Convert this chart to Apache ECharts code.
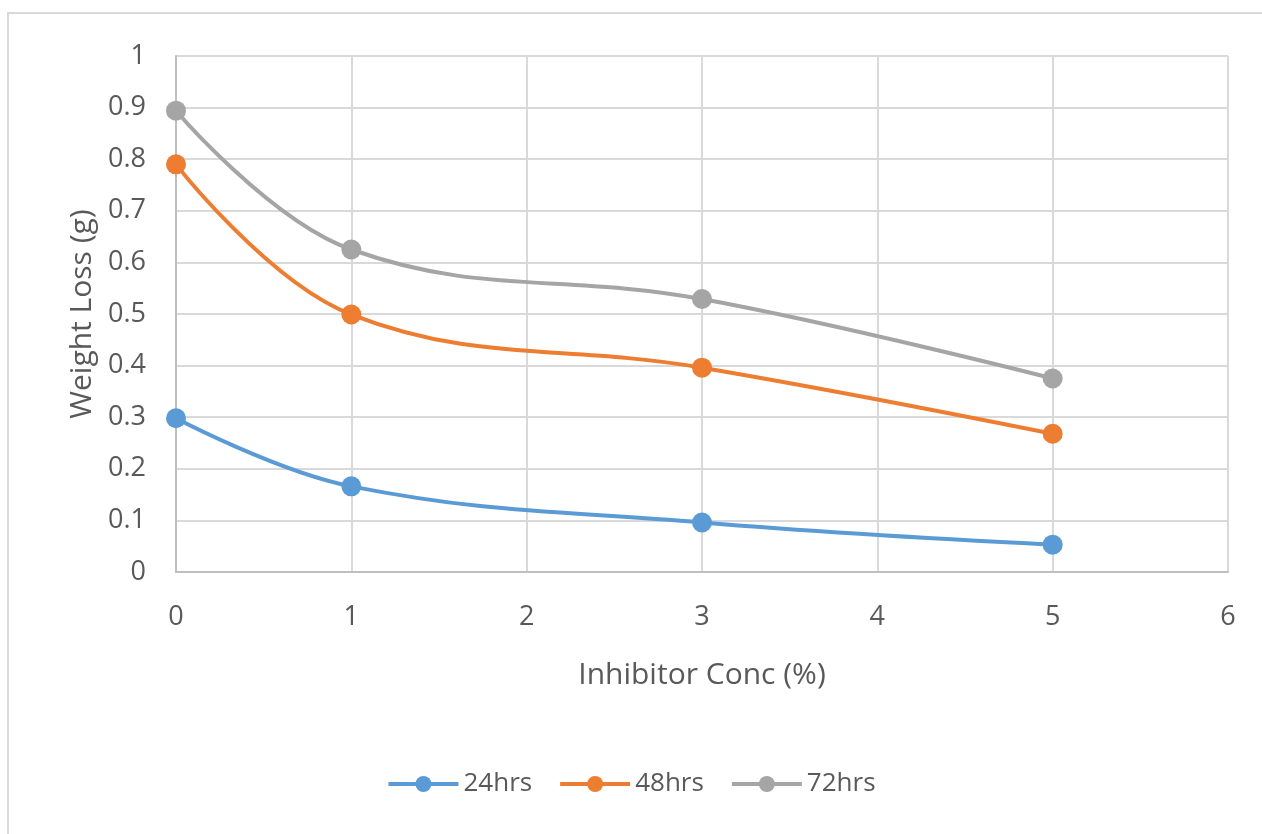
<!DOCTYPE html>
<html><head><meta charset="utf-8">
<script src="https://cdn.jsdelivr.net/npm/echarts@6/dist/echarts.min.js"></script>
<style>html,body{margin:0;padding:0;background:#fff}#c{width:1262px;height:834px}</style>
</head><body><div id="c"></div>
<script>
const xValues = [0, 1, 3, 5];
const seriesNames = ['24hrs', '48hrs', '72hrs'];
const hrs24 = [0.298, 0.166, 0.096, 0.053];
const hrs48 = [0.790, 0.499, 0.396, 0.268];
const hrs72 = [0.894, 0.625, 0.529, 0.375];
const colors = ['#5b9bd5', '#ed7d31', '#a5a5a5'];
const allData = [hrs24, hrs48, hrs72];

const chart = echarts.init(document.getElementById('c'));
const font = '"Open Sans", "Noto Sans", sans-serif';
chart.setOption({
  animation: false,
  textStyle: { fontFamily: font },
  graphic: [{ type: 'rect', shape: { x: 8, y: 13, width: 1300, height: 900 }, style: { fill: 'none', stroke: '#d9d9d9', lineWidth: 2 }, silent: true }],
  grid: { left: 176, right: 34, top: 56, bottom: 262 },
  legend: {
    top: 766, left: 'center', itemWidth: 70, itemHeight: 20, itemGap: 26,
    textStyle: { color: '#595959', fontSize: 26, fontFamily: font },
    lineStyle: { width: 4 },
    data: seriesNames
  },
  xAxis: {
    type: 'value', min: 0, max: 6, interval: 1,
    name: 'Inhibitor Conc (%)', nameLocation: 'middle', nameGap: 88,
    nameTextStyle: { color: '#595959', fontSize: 30, fontFamily: font },
    axisLine: { lineStyle: { color: '#bfbfbf', width: 2 } },
    axisTick: { show: false },
    axisLabel: { color: '#595959', fontSize: 27, margin: 32, fontFamily: font },
    splitLine: { lineStyle: { color: '#d9d9d9', width: 2 } }
  },
  yAxis: {
    type: 'value', min: 0, max: 1, interval: 0.1,
    name: 'Weight Loss (g)', nameLocation: 'middle', nameGap: 76,
    nameTextStyle: { color: '#595959', fontSize: 30, fontFamily: font },
    axisLine: { show: true, lineStyle: { color: '#bfbfbf', width: 2 } },
    axisTick: { show: false },
    axisLabel: { color: '#595959', fontSize: 27, margin: 30, fontFamily: font },
    splitLine: { lineStyle: { color: '#d9d9d9', width: 2 } }
  },
  series: seriesNames.map((n, i) => ({
    name: n, type: 'line', smooth: 0.4,
    data: xValues.map((x, j) => [x, allData[i][j]]),
    symbol: 'circle', symbolSize: 20,
    lineStyle: { color: colors[i], width: 4 },
    itemStyle: { color: colors[i] }
  }))
});
</script></body></html>
